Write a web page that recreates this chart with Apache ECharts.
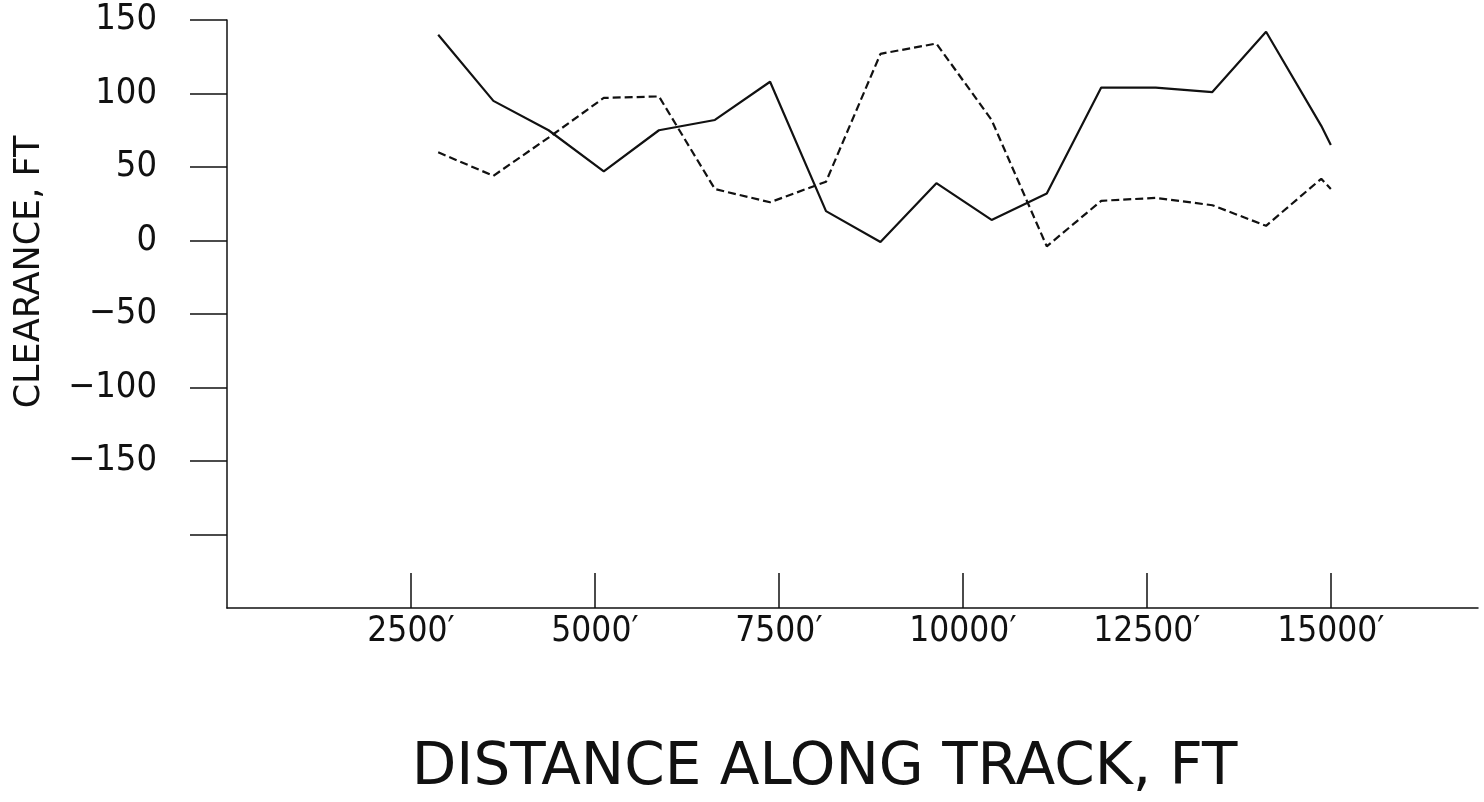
<!DOCTYPE html>
<html>
<head>
<meta charset="utf-8">
<style>
  html, body { margin: 0; padding: 0; background: #ffffff; }
  #chart { width: 1484px; height: 802px; }
</style>
<script src="https://cdn.jsdelivr.net/npm/echarts@6/dist/echarts.min.js"></script>
</head>
<body>
<div id="chart"></div>
<script>
// Station along the track (ft) where clearance was sampled
const distanceFt = [2870, 3620, 4370, 5120, 5870, 6630, 7380, 8140, 8880, 9640,
                    10390, 11140, 11880, 12620, 13390, 14120, 14870, 15000];
// Clearance profile drawn solid (ft)
const clearanceSolid = [140, 95, 75, 47, 75, 82, 108, 20, -1, 39,
                        14, 32, 104, 104, 101, 142, 78, 65];
// Clearance profile drawn dashed (ft)
const clearanceDashed = [60, 44, 70, 97, 98, 35, 26, 40, 127, 134,
                         82, -4, 27, 29, 24, 10, 42, 35];

// Axis tick positions and labels
const xTickValues = [2500, 5000, 7500, 10000, 12500, 15000];
const yTickValues = [-200, -150, -100, -50, 0, 50, 100, 150];
const yLabelValues = [-150, -100, -50, 0, 50, 100, 150];

const NARROW = "'Liberation Sans Narrow', 'DejaVu Sans Condensed', 'Liberation Sans', sans-serif";
const WIDE = "'DejaVu Sans', 'Liberation Sans', sans-serif";
const INK = '#111111';

const pairs = (ys) => distanceFt.map((x, i) => [x, ys[i]]);

const chart = echarts.init(document.getElementById('chart'), null, { renderer: 'canvas' });

chart.setOption({
  animation: false,
  backgroundColor: '#ffffff',
  grid: {
    left: 227, right: 6, top: 20, bottom: 194,
    containLabel: false, outerBoundsMode: 'none'
  },
  xAxis: {
    type: 'value',
    min: 0,
    max: 17000,
    interval: 2500,
    name: 'DISTANCE ALONG TRACK, FT',
    nameLocation: 'middle',
    nameGap: 132,
    nameTextStyle: {
      fontFamily: WIDE, fontSize: 58, color: INK, fontWeight: 'normal',
      padding: [0, 56, 0, 0]
    },
    axisLine: { show: true, onZero: false, lineStyle: { color: INK, width: 1.5 } },
    axisTick: {
      show: true, inside: true, length: 35,
      customValues: xTickValues,
      lineStyle: { color: INK, width: 1.5 }
    },
    axisLabel: {
      show: true, margin: 6,
      customValues: xTickValues,
      fontFamily: NARROW, fontSize: 35, color: INK,
      formatter: (v) => v + '\u2032'
    },
    splitLine: { show: false }
  },
  yAxis: {
    type: 'value',
    min: -250,
    max: 150,
    interval: 50,
    name: 'CLEARANCE, FT',
    nameLocation: 'middle',
    nameRotate: 90,
    nameGap: 180,
    nameTextStyle: {
      fontFamily: WIDE, fontSize: 35, color: INK,
      padding: [0, 0, 0, 84]
    },
    axisLine: { show: true, onZero: false, lineStyle: { color: INK, width: 1.5 } },
    axisTick: {
      show: true, inside: false, length: 37,
      customValues: yTickValues,
      lineStyle: { color: INK, width: 1.5 }
    },
    axisLabel: {
      show: true, margin: 70,
      customValues: yLabelValues,
      fontFamily: NARROW, fontSize: 36, color: INK,
      formatter: (v) => (v < 0 ? '\u2212' + Math.abs(v) : String(v))
    },
    splitLine: { show: false }
  },
  series: [
    {
      name: 'Clearance 1',
      type: 'line',
      data: pairs(clearanceSolid),
      showSymbol: false,
      lineStyle: { color: INK, width: 2.2, type: 'solid' }
    },
    {
      name: 'Clearance 2',
      type: 'line',
      data: pairs(clearanceDashed),
      showSymbol: false,
      lineStyle: { color: INK, width: 2.2, type: [8, 4] }
    }
  ]
});
</script>
</body>
</html>
